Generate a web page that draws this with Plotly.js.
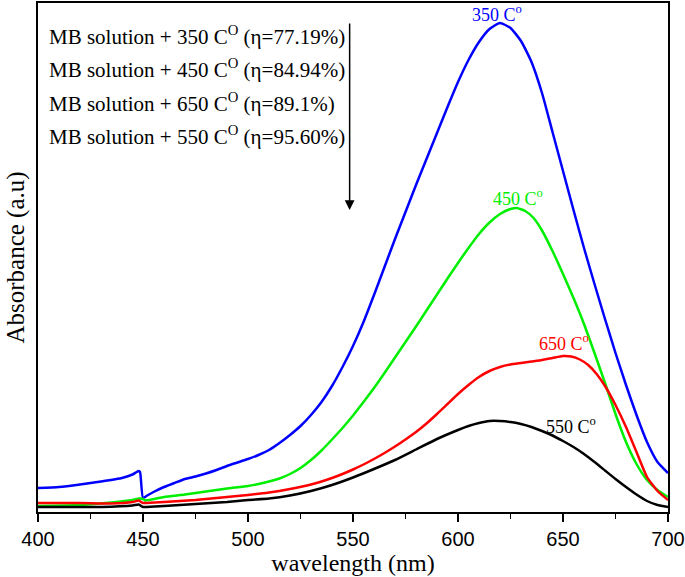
<!DOCTYPE html>
<html>
<head>
<meta charset="utf-8">
<script src="https://cdn.plot.ly/plotly-3.0.1.min.js"></script>
<style>html,body{margin:0;padding:0;background:#fff;}#chart{width:685px;height:577px;}</style>
</head>
<body>
<div id="chart"></div>
<script>
// ---- data (wavelength in nm, absorbance in arbitrary units) ----
const wl350 = [400,410,420,430,440,445,447,448,448.6,450,452,455,460,465,470,475,480,485,490,495,500,505,510,515,520,525,530,535,540,545,550,555,560,565,570,575,580,585,590,595,600,605,610,615,620,625,630,635,640,645,650,655,660,665,670,675,680,685,690,695,700];
const abs350 = [0.048,0.050,0.055,0.061,0.068,0.075,0.080,0.082,0.080,0.028,0.033,0.040,0.050,0.058,0.066,0.071,0.077,0.084,0.092,0.099,0.106,0.114,0.124,0.138,0.154,0.172,0.194,0.220,0.252,0.290,0.332,0.380,0.434,0.490,0.546,0.600,0.654,0.706,0.758,0.810,0.860,0.904,0.940,0.966,0.978,0.968,0.942,0.900,0.838,0.760,0.682,0.604,0.528,0.456,0.386,0.318,0.254,0.194,0.140,0.100,0.078];

const wl450 = [400,420,435,445,448,450,451,460,470,480,490,500,505,510,515,520,525,530,535,540,545,550,555,560,565,570,575,580,585,590,595,600,605,610,615,620,625,628,632,636,640,645,650,655,660,665,670,675,680,685,690,695,700];
const abs450 = [0.012,0.014,0.019,0.024,0.027,0.026,0.023,0.030,0.035,0.041,0.047,0.052,0.056,0.061,0.067,0.076,0.088,0.104,0.123,0.145,0.168,0.193,0.220,0.248,0.278,0.309,0.340,0.371,0.403,0.435,0.467,0.498,0.528,0.556,0.579,0.596,0.606,0.608,0.602,0.588,0.563,0.522,0.476,0.428,0.376,0.318,0.258,0.196,0.140,0.096,0.064,0.044,0.030];

const wl650 = [400,420,435,445,448,450,460,475,490,500,510,520,530,540,545,550,555,560,565,570,575,580,585,590,595,600,605,610,615,620,625,630,635,640,645,650,654,658,662,666,670,675,680,685,690,695,700];
const abs650 = [0.018,0.018,0.017,0.020,0.023,0.018,0.020,0.024,0.030,0.034,0.039,0.046,0.055,0.068,0.076,0.085,0.095,0.106,0.118,0.131,0.145,0.160,0.177,0.196,0.216,0.236,0.254,0.270,0.282,0.290,0.295,0.298,0.301,0.304,0.308,0.312,0.311,0.305,0.294,0.276,0.252,0.214,0.170,0.120,0.070,0.042,0.024];

const wl550 = [400,430,445,448,450,460,475,490,500,510,520,530,540,550,560,570,580,590,600,605,610,615,620,625,630,635,640,645,650,655,660,665,670,675,680,685,690,695,700];
const abs550 = [0.010,0.010,0.013,0.015,0.010,0.012,0.016,0.020,0.024,0.027,0.033,0.042,0.054,0.069,0.086,0.104,0.125,0.146,0.164,0.172,0.178,0.182,0.182,0.180,0.176,0.170,0.162,0.153,0.142,0.130,0.116,0.100,0.083,0.066,0.050,0.035,0.022,0.014,0.010];

const xTickVals = [400,450,500,550,600,650,700];
const legendLines = [
  "MB solution + 350 C<sup>O</sup> (η=77.19%)",
  "MB solution + 450 C<sup>O</sup> (η=84.94%)",
  "MB solution + 650 C<sup>O</sup> (η=89.1%)",
  "MB solution + 550 C<sup>O</sup> (η=95.60%)"
];
const legendY = [0.954, 0.888, 0.820, 0.754];
const curveLabels = ["350 C<sup>o</sup>","450 C<sup>o</sup>","650 C<sup>o</sup>","550 C<sup>o</sup>"];
const labelX = [618.6, 628.4, 650.4, 653.7];
const labelY = [0.998, 0.630, 0.340, 0.174];
const colors = ["#0000ff","#00ee00","#ff0000","#000000"];

// ---- traces ----
const series = [[wl350,abs350],[wl450,abs450],[wl650,abs650],[wl550,abs550]];
const traces = series.map((s,i)=>({
  x: s[0], y: s[1], type:'scatter', mode:'lines',
  line:{color:colors[i], width:2.5, shape:'spline', smoothing:0.5},
  hoverinfo:'skip', showlegend:false
}));

const serif = "Liberation Serif, Times New Roman, serif";
const annotations = [];
legendLines.forEach((t,i)=>{
  annotations.push({x:404.1, y:legendY[i], xref:'x', yref:'y',
    text:t, showarrow:false, xanchor:'left', yanchor:'middle',
    font:{family:serif, size:21, color:'#000'}});
});
curveLabels.forEach((t,i)=>{
  annotations.push({x:labelX[i], y:labelY[i], xref:'x', yref:'y', text:t,
    showarrow:false, xanchor:'center', yanchor:'middle',
    font:{family:serif, size:18, color:colors[i]}});
});
annotations.push({x:548.4, y:0.604, ax:548.4, ay:0.98, axref:'x', ayref:'y', xref:'x', yref:'y',
  text:'', showarrow:true, arrowhead:2, arrowsize:1.3, arrowwidth:1.5, arrowcolor:'#000'});

const layout = {
  width:685, height:577,
  margin:{l:38, r:17, t:3, b:65, pad:0},
  paper_bgcolor:'#fff', plot_bgcolor:'#fff',
  xaxis:{
    range:[400,700], tickvals:xTickVals, ticktext:xTickVals.map(String),
    ticks:'outside', ticklen:8, tickwidth:1.5, tickcolor:'#000',
    minor:{dtick:25, ticks:'outside', ticklen:5, tickwidth:1.5, tickcolor:'#000'},
    showline:true, linecolor:'#000', linewidth:2, mirror:true,
    showgrid:false, zeroline:false,
    tickfont:{family:"Liberation Sans, Arial, sans-serif", size:20, color:'#000'},
    title:{text:'wavelength (nm)', font:{family:serif, size:24, color:'#000'}, standoff:2}
  },
  yaxis:{
    range:[0,1.018], showticklabels:false, ticks:'',
    showline:true, linecolor:'#000', linewidth:2, mirror:true,
    showgrid:false, zeroline:false,
    title:{text:'Absorbance (a.u)', font:{family:serif, size:25, color:'#000'}, standoff:4}
  },
  annotations: annotations
};

Plotly.newPlot('chart', traces, layout, {displayModeBar:false, staticPlot:true});
</script>
</body>
</html>
